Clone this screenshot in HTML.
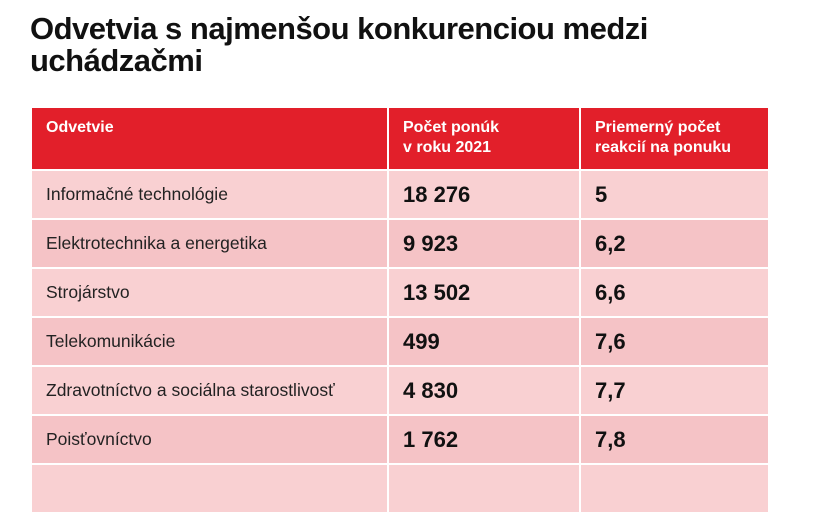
<!DOCTYPE html>
<html><head><meta charset="utf-8"><style>
body{margin:0;width:825px;height:463px;overflow:hidden;background:#fff;font-family:"Liberation Sans",sans-serif;}
h1{position:absolute;left:30px;top:13px;margin:0;font-size:31px;line-height:32px;font-weight:bold;color:#111;letter-spacing:-0.5px;}
table{position:absolute;left:30px;top:108px;width:740px;border-collapse:collapse;}
td,th{border:2px solid #fff;padding:0 0 0 14px;text-align:left;vertical-align:middle;}
tr{height:49px;}
tr.h{height:62px;}
th{background:#e21f2a;color:#fff;font-size:16px;line-height:20px;vertical-align:top;padding-top:10px;}
td{font-size:17.5px;color:#222;}
td.v{font-size:22px;font-weight:bold;color:#111;}
tr:nth-child(even) td{background:#f9d0d2;}
tr:nth-child(odd) td{background:#f5c3c6;}
tr.h th{border-top:none;}
</style></head><body>
<h1>Odvetvia s najmenšou konkurenciou medzi<br>uchádzačmi</h1>
<table>
<col style="width:357px"><col style="width:192px"><col>
<tr class="h"><th>Odvetvie</th><th>Počet ponúk<br>v roku 2021</th><th>Priemerný počet<br>reakcií na ponuku</th></tr>
<tr><td>Informačné technológie</td><td class="v">18 276</td><td class="v">5</td></tr>
<tr><td>Elektrotechnika a energetika</td><td class="v">9 923</td><td class="v">6,2</td></tr>
<tr><td>Strojárstvo</td><td class="v">13 502</td><td class="v">6,6</td></tr>
<tr><td>Telekomunikácie</td><td class="v">499</td><td class="v">7,6</td></tr>
<tr><td>Zdravotníctvo a sociálna starostlivosť</td><td class="v">4 830</td><td class="v">7,7</td></tr>
<tr><td>Poisťovníctvo</td><td class="v">1 762</td><td class="v">7,8</td></tr>
<tr><td>&nbsp;</td><td></td><td></td></tr>
</table>
</body></html>
